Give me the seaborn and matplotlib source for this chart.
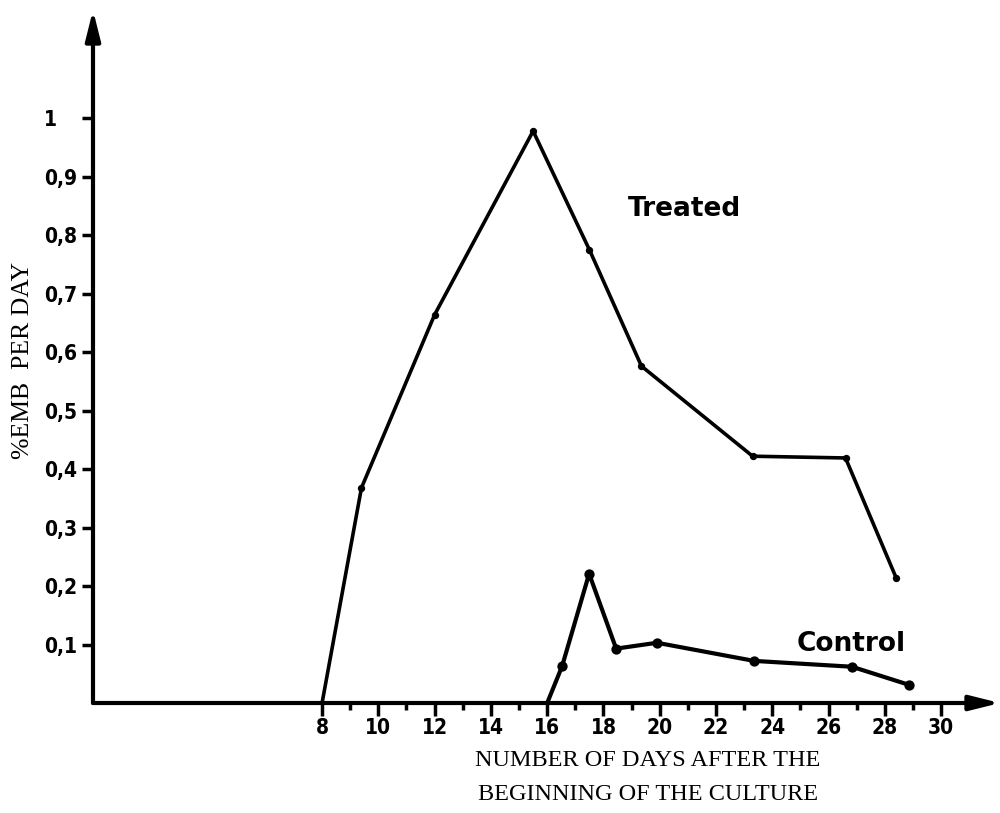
import matplotlib
matplotlib.use("Agg")
import numpy as np
import pandas as pd
import seaborn as sns
import matplotlib.pyplot as plt
from matplotlib.ticker import FixedLocator

# ---- data ----
treated_days = [8.0, 9.4, 12.0, 15.5, 17.5, 19.35, 23.3, 26.6, 28.4]
treated_vals = [0.0, 0.368, 0.664, 0.978, 0.775, 0.576, 0.422, 0.419, 0.214]
control_days = [16.0, 16.53, 17.49, 18.45, 19.9, 23.35, 26.83, 28.86]
control_vals = [0.0, 0.063, 0.221, 0.093, 0.103, 0.072, 0.062, 0.031]

x_major = [8, 10, 12, 14, 16, 18, 20, 22, 24, 26, 28, 30]
x_minor = [9, 11, 13, 15, 17, 19, 21, 23, 25, 27, 29]
y_ticks = [0.1, 0.2, 0.3, 0.4, 0.5, 0.6, 0.7, 0.8, 0.9, 1.0]
y_ticklabels = ["0,1", "0,2", "0,3", "0,4", "0,5", "0,6", "0,7", "0,8", "0,9", "1"]

treated = pd.DataFrame({"day": treated_days, "val": treated_vals})
control = pd.DataFrame({"day": control_days, "val": control_vals})

sns.set_style("white")
plt.rcParams["font.family"] = ["DejaVu Sans"]
plt.rcParams["text.color"] = "black"
plt.rcParams["xtick.color"] = "black"
plt.rcParams["ytick.color"] = "black"
plt.rcParams["xtick.labelcolor"] = "black"
plt.rcParams["ytick.labelcolor"] = "black"

W, H = 1000, 813
fig = plt.figure(figsize=(10, 8.13), dpi=100)
fig.patch.set_facecolor("white")

left_px, right_px, bottom_px, top_px = 93, 1000, 703, 10
ax = fig.add_axes([left_px / W, 1 - bottom_px / H,
                   (right_px - left_px) / W, (bottom_px - top_px) / H])
ax.set_facecolor("white")
ax.set_xlim(-0.14, 32.09)
ax.set_ylim(0, 1.185)

# lines
sns.lineplot(data=treated, x="day", y="val", ax=ax, color="black",
             linewidth=2.6, sort=False, estimator=None)
sns.lineplot(data=control, x="day", y="val", ax=ax, color="black",
             linewidth=3.0, sort=False, estimator=None)
# vertex dots (no dot on the starting point at zero)
sns.scatterplot(data=treated.iloc[1:], x="day", y="val", ax=ax, color="black",
                s=28, edgecolor="black", linewidth=0, zorder=5)
sns.scatterplot(data=control.iloc[1:], x="day", y="val", ax=ax, color="black",
                s=55, edgecolor="black", linewidth=0, zorder=5)

for sp in ax.spines.values():
    sp.set_visible(False)

# axes with arrows
arrow_kw = dict(arrowstyle="-|>,head_length=1.8,head_width=0.45",
                lw=3.0, color="black", shrinkA=0, shrinkB=0)
ax.annotate("", xy=(1.0, 0.0), xytext=(0.0, 0.0), xycoords="axes fraction",
            textcoords="axes fraction", arrowprops=arrow_kw, annotation_clip=False)
ax.annotate("", xy=(0.0, 1.0), xytext=(0.0, 0.0), xycoords="axes fraction",
            textcoords="axes fraction", arrowprops=arrow_kw, annotation_clip=False)

tick_font = dict(family=["DejaVu Sans"], stretch="condensed", weight="bold",
                 size=15, color="black")

ax.xaxis.set_major_locator(FixedLocator(x_major))
ax.xaxis.set_minor_locator(FixedLocator(x_minor))
ax.set_xticklabels([str(v) for v in x_major], fontdict=tick_font)
ax.tick_params(axis="x", which="major", direction="out", length=9, width=2.5,
               color="black", pad=2, bottom=True)
ax.tick_params(axis="x", which="minor", direction="out", length=5, width=2.5,
               color="black", bottom=True)

ax.yaxis.set_major_locator(FixedLocator(y_ticks))
ax.set_yticklabels(y_ticklabels, fontdict=tick_font, ha="left")
ax.tick_params(axis="y", which="major", direction="out", length=8, width=2.5,
               color="black", pad=27, left=True)

ax.set_xlabel("")
ax.set_ylabel("")

serif = ["Liberation Serif", "DejaVu Serif"]
fig.text(648 / W, 1 - 760 / H, "NUMBER OF DAYS AFTER THE", family=serif,
         size=17.5, ha="center", va="center", color="black")
fig.text(648 / W, 1 - 794 / H, "BEGINNING OF THE CULTURE", family=serif,
         size=17.5, ha="center", va="center", color="black")
fig.text(23 / W, 1 - 360 / H, "%EMB  PER DAY", family=serif, size=18.5,
         rotation=90, ha="center", va="center", color="black")

fig.text(684 / W, 1 - 209 / H, "Treated", family=["DejaVu Sans"], weight="bold",
         size=19, ha="center", va="center", color="black")
fig.text(851 / W, 1 - 644 / H, "Control", family=["DejaVu Sans"], weight="bold",
         size=19, ha="center", va="center", color="black")

fig.savefig("out.png", dpi=100, facecolor="white")
